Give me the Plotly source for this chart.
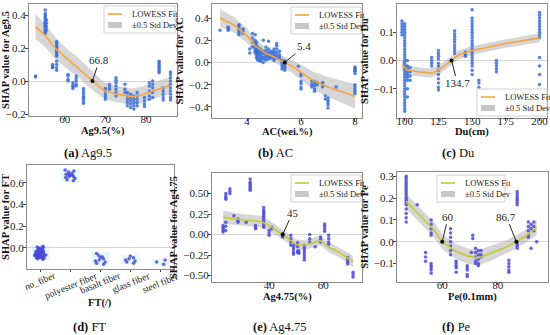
import plotly.graph_objects as go
import numpy as np

W, H = 550, 335
FONT = "Liberation Serif"

# ---------------- data ----------------
# (a) Ag9.5
ag95_gx = [52.8, 55.2, 55.5, 57.0, 58.0, 60.8, 62.0, 62.8, 64.6, 70.0, 71.0, 72.6, 74.8,
           75.4, 76.2, 77.0, 77.8, 79.6, 80.8, 81.6, 83.2, 84.2, 86.0]
ag95_gy = [
    [0.03, 0.025],
    [0.43, 0.41, 0.40, 0.39, 0.38, 0.37, 0.36, 0.355, 0.35, 0.345, 0.34, 0.335, 0.33, 0.32, 0.31, 0.30, 0.29],
    [0.37, 0.35, 0.33, 0.31],
    [0.10, 0.09, 0.085, 0.08],
    [0.24, 0.23, 0.22, 0.21, 0.20, 0.19, 0.18, 0.17, 0.16, 0.15, 0.12, 0.10, 0.08, 0.065],
    [0.04, 0.03, 0.01, 0.0],
    [-0.01, -0.025, -0.035, -0.045],
    [0.03, 0.015, 0.0, -0.02, -0.03],
    [-0.045, -0.06, -0.075, -0.09, -0.10, -0.11, -0.125, -0.135],
    [-0.045, -0.06, -0.08, -0.095, -0.11],
    [-0.02, -0.035, -0.05],
    [0.02, 0.005, -0.01, -0.03, -0.05, -0.07, -0.09],
    [-0.02, -0.05, -0.07],
    [-0.07, -0.09, -0.11, -0.13, -0.15],
    [-0.08, -0.10, -0.12, -0.14, -0.16],
    [-0.09, -0.11, -0.13, -0.15, -0.17],
    [-0.07, -0.09, -0.11, -0.13, -0.15],
    [-0.10, -0.12, -0.14, -0.155],
    [-0.01, -0.03, -0.06, -0.09, -0.11],
    [0.0, -0.02, -0.04, -0.07, -0.10],
    [0.12, 0.11, 0.10, 0.09, 0.08, 0.07, 0.06, 0.05],
    [-0.04, -0.06, -0.08, -0.10, -0.115],
    [0.055, 0.04, 0.02, 0.0, -0.02, -0.04, -0.06, -0.08, -0.10, -0.115],
]
ag95_fit_x = [52.8, 55, 58, 61, 63, 66.8, 69.5, 72, 74, 76.5, 79, 81, 83.5, 86]
ag95_fit_y = [0.33, 0.28, 0.19, 0.125, 0.087, 0.0, -0.055, -0.075, -0.085, -0.095, -0.085, -0.065, -0.045, -0.025]
ag95_half = [0.075, 0.07, 0.065, 0.06, 0.06, 0.055, 0.05, 0.05, 0.05, 0.05, 0.05, 0.05, 0.05, 0.05]
ag95_mark = [66.8]

# (b) AC
ac_gx = [3.0, 3.3, 3.7, 3.85, 4.1, 4.2, 4.3, 4.35, 4.4, 4.5, 4.6, 4.7, 4.8, 4.9, 5.0, 5.1, 5.2,
         5.3, 5.4, 5.9, 6.0, 6.4, 6.5, 6.6, 6.8, 6.9, 7.0, 7.3, 8.0]
ac_gy = [
    [0.29],
    [0.32, 0.31, 0.30, 0.29],
    [0.34, 0.33, 0.31, 0.29, 0.27, 0.25],
    [0.30, 0.28, 0.26],
    [0.085, 0.12],
    [0.26, 0.22, 0.18, 0.14],
    [0.25, 0.20, 0.17, 0.15, 0.12, 0.10, 0.085],
    [0.18, 0.15, 0.12, 0.10, 0.08, 0.06, 0.04],
    [0.14, 0.11, 0.09, 0.07, 0.05, 0.03, 0.02],
    [0.12, 0.10, 0.08, 0.06, 0.04, 0.02, 0.01],
    [0.20, 0.10, 0.08, 0.05, 0.03, 0.0],
    [0.14, 0.11, 0.08, 0.06, 0.04, 0.02],
    [0.19, 0.12, 0.09, 0.07, 0.05, 0.03],
    [0.10, 0.08, 0.06, 0.04],
    [0.12, 0.10, 0.08, 0.06, 0.04, 0.02],
    [0.17, 0.15, 0.12, 0.09, 0.06, 0.04],
    [0.10, 0.07, 0.05, 0.03],
    [0.02, 0.0, -0.02, -0.04, -0.06],
    [0.01, -0.01, -0.03, -0.05, -0.07],
    [-0.035],
    [-0.10, -0.12, -0.17, -0.19, -0.22, -0.24],
    [-0.17, -0.20, -0.22],
    [-0.17, -0.19, -0.21, -0.24, -0.26],
    [-0.18, -0.20],
    [-0.18, -0.20, -0.22],
    [-0.30, -0.33],
    [-0.32, -0.34, -0.36, -0.38, -0.41],
    [-0.22],
    [-0.04, -0.05, -0.06, -0.07, -0.08, -0.10, -0.20, -0.22, -0.24, -0.26, -0.28],
]
ac_fit_x = [3.0, 3.5, 4.0, 4.3, 4.7, 5.0, 5.4, 5.7, 6.0, 6.5, 7.0, 7.5, 8.0]
ac_fit_y = [0.40, 0.34, 0.24, 0.15, 0.08, 0.05, 0.0, -0.04, -0.09, -0.17, -0.22, -0.26, -0.305]
ac_half = [0.08, 0.07, 0.065, 0.06, 0.05, 0.05, 0.05, 0.06, 0.07, 0.08, 0.09, 0.10, 0.11]
ac_mark = [5.4]

# (c) Du
du_gx = [98, 100, 102, 104, 120, 125, 137, 145, 150, 155, 168, 200]
du_gy = [
    [0.14, 0.13, 0.12, 0.11, 0.10, 0.09],
    [0.13, 0.12, 0.11, 0.10, 0.09, 0.08, 0.07, 0.06, 0.05, 0.04, 0.03, 0.02, 0.01, 0.0, -0.01, -0.02,
     -0.03, -0.04, -0.05, -0.06, -0.07, -0.08, -0.09, -0.10, -0.11, -0.12, -0.13, -0.14, -0.15, -0.16,
     -0.17, -0.18],
    [0.0, -0.02, -0.03, -0.04, -0.05, -0.06, -0.07, -0.10, -0.13],
    [-0.025, -0.04, -0.055, -0.07],
    [0.01, 0.0, -0.01, -0.02],
    [0.035, 0.025, 0.015, 0.005, -0.01, -0.02, -0.035, -0.05, -0.065, -0.08, -0.095, -0.105],
    [0.105, 0.095, 0.085, 0.075, 0.065, 0.055, 0.045, 0.035, 0.025],
    [0.03, 0.02, 0.015],
    [0.18, 0.15, 0.14, 0.13, 0.12, 0.11, 0.10, 0.09, 0.08, 0.07, 0.06, 0.05, 0.04, 0.03, 0.02, 0.01,
     0.0, -0.01, -0.02, -0.035, -0.05],
    [-0.07, -0.08, -0.095],
    [0.0, -0.01, -0.02, -0.03, -0.04],
    [0.17, 0.16, 0.15, 0.14, 0.13, 0.12, 0.11, 0.10, 0.09, 0.08, 0.01, -0.02, -0.05, -0.085],
]
du_fit_x = [98, 102, 110, 120, 125, 130, 134.7, 140, 150, 175, 200]
du_fit_y = [-0.015, -0.035, -0.04, -0.045, -0.035, -0.018, 0.0, 0.02, 0.035, 0.06, 0.08]
du_half = [0.02, 0.018, 0.016, 0.016, 0.016, 0.016, 0.016, 0.016, 0.015, 0.015, 0.016]
du_mark = [134.7]

# (d) FT
ft_categories = ["no_fiber", "polyester fiber", "basalt fiber", "glass fiber", "steel fiber"]
ft_values = [
    [0.015, 0.01, 0.005, 0.0, -0.005, -0.01, -0.015, -0.02, -0.025, -0.03, -0.03, -0.035, -0.035, -0.04,
     -0.04, -0.045, -0.045, -0.05, -0.05, -0.05, -0.055, -0.055, -0.06, -0.06, -0.06, -0.065, -0.065,
     -0.07, -0.07, -0.07, -0.075, -0.075, -0.08, -0.08, -0.085, -0.085, -0.09, -0.09, -0.095, -0.1, -0.105],
    [0.72, 0.71, 0.70, 0.69, 0.68, 0.68, 0.67, 0.67, 0.66, 0.66, 0.65, 0.64, 0.63, 0.62],
    [-0.05, -0.07, -0.08, -0.09, -0.10, -0.11, -0.12, -0.13, -0.14, -0.15],
    [-0.075, -0.09, -0.10, -0.11, -0.12, -0.13, -0.14],
    [-0.11, -0.13, -0.15],
]

# (e) Ag4.75
ag475_gx = [23, 24, 25.5, 27, 28.5, 31.5, 33, 35, 38, 40, 41, 45, 48, 49, 50.5, 51, 53, 55, 57,
            59, 60.5, 62, 69, 71]
ag475_gy = [
    [0.11, 0.09, 0.07, 0.05, 0.03],
    [0.50, 0.47, 0.45, 0.43, 0.15, 0.10, 0.05],
    [0.56, 0.53, 0.50],
    [0.23],
    [0.19, 0.17, 0.15],
    [0.15],
    [0.68, 0.64, 0.62, 0.60, 0.58, 0.56, 0.54],
    [0.11, 0.09, 0.07],
    [0.33, 0.30, 0.28, 0.26, 0.24, 0.22, 0.20, 0.17, 0.14, 0.11, 0.09],
    [0.05, 0.02, -0.01],
    [0.09, 0.07],
    [0.01, 0.0, -0.02, -0.03],
    [-0.01, -0.05, -0.09, -0.13],
    [-0.13, -0.16, -0.19, -0.22, -0.24],
    [-0.10, -0.15, -0.20, -0.22],
    [-0.20, -0.23],
    [-0.13, -0.16, -0.19, -0.22, -0.25, -0.28, -0.31],
    [0.0, -0.05, -0.09],
    [-0.15],
    [-0.03, -0.06, -0.09],
    [0.13, 0.10, 0.07, 0.04],
    [-0.01, -0.05, -0.09, -0.12],
    [-0.28, -0.31, -0.34, -0.36],
    [-0.46, -0.49, -0.52],
]
ag475_fit_x = [23, 30, 37, 40, 45, 50, 53, 56, 59, 62, 66, 71]
ag475_fit_y = [0.21, 0.18, 0.16, 0.11, 0.0, -0.12, -0.13, -0.10, -0.075, -0.155, -0.22, -0.33]
ag475_half = [0.08, 0.07, 0.07, 0.065, 0.06, 0.06, 0.06, 0.06, 0.06, 0.06, 0.06, 0.07]
ag475_mark = [45]

# (f) Pe
pe_gx = [47, 51, 54, 56, 63, 65, 69, 70.5, 71, 72, 73, 74, 84, 87, 91, 92, 93, 94]
pe_gy = [
    [0.30, 0.29, 0.28, 0.27, 0.26, 0.25, 0.24, 0.23, 0.22, 0.21, 0.20, 0.19, 0.18, 0.17, 0.15, 0.13, 0.11, 0.09],
    [0.17],
    [-0.05, -0.07, -0.09],
    [0.10, 0.08, 0.06, 0.04, 0.03, -0.10, -0.11, -0.12, -0.13, -0.145],
    [0.06, 0.04, 0.02, 0.0, -0.02, -0.04, -0.06],
    [-0.09, -0.10, -0.11, -0.12, -0.14],
    [-0.11, -0.12, -0.13, -0.15, -0.16],
    [-0.05],
    [0.03, 0.015],
    [-0.03, -0.05, -0.07, -0.09, -0.10],
    [-0.04, -0.06, -0.08, -0.10, -0.11],
    [-0.04, -0.06, -0.07],
    [-0.085, -0.10, -0.115, -0.13, -0.14],
    [0.23, 0.22, 0.21, 0.20, 0.19, 0.18, 0.17, 0.0, -0.01, -0.02, -0.03],
    [0.09, 0.07, 0.05, 0.03, 0.02],
    [0.08, 0.06, -0.03],
    [0.09, 0.07, 0.05],
    [0.0],
]
pe_fit_x = [47, 52, 57, 60, 65, 69, 73, 78, 83, 86.7, 90, 94]
pe_fit_y = [0.185, 0.12, 0.055, 0.0, -0.045, -0.065, -0.075, -0.05, -0.025, 0.0, 0.025, 0.065]
pe_half = [0.035, 0.035, 0.035, 0.035, 0.035, 0.035, 0.035, 0.035, 0.03, 0.03, 0.03, 0.035]
pe_mark = [60, 86.7]

legend_labels = ["LOWESS Fit", "±0.5 Std Dev"]

# ---------------- figure ----------------
fig = go.Figure()

def flat(gx, gy):
    xs = [x for x, ys in zip(gx, gy) for _ in ys]
    ys = [y for g in gy for y in g]
    return xs, ys

def dx(l, r):
    return [l / W, r / W]

def dy(t, b):
    return [1 - b / H, 1 - t / H]

def px(v):
    return v / W

def py(v):
    return 1 - v / H

BLUE = "#3a6fd6"
PURPLE = "#4a4ad8"
ORANGE = "#f5a540"
OLIVE = "#c8c637"
BAND = "rgba(165,165,165,0.45)"

def add_panel(i, gx, gy, fx, fy, half, marks, pcolor, lcolor):
    xa = "x" if i == 1 else f"x{i}"
    ya = "y" if i == 1 else f"y{i}"
    fx = np.array(fx); fy = np.array(fy); h = np.array(half)
    fig.add_trace(go.Scatter(x=fx, y=fy - h, mode="lines", line=dict(width=0), xaxis=xa, yaxis=ya,
                             showlegend=False, hoverinfo="skip"))
    fig.add_trace(go.Scatter(x=fx, y=fy + h, mode="lines", line=dict(width=0), fill="tonexty",
                             fillcolor=BAND, xaxis=xa, yaxis=ya, showlegend=False))
    xs, ys = flat(gx, gy)
    fig.add_trace(go.Scatter(x=xs, y=ys, mode="markers", xaxis=xa, yaxis=ya, showlegend=False,
                             marker=dict(size=3.5, color=pcolor, opacity=0.85)))
    fig.add_trace(go.Scatter(x=fx, y=fy, mode="lines", line=dict(color=lcolor, width=1.6),
                             xaxis=xa, yaxis=ya, showlegend=False))
    fig.add_trace(go.Scatter(x=marks, y=[0] * len(marks), mode="markers", xaxis=xa, yaxis=ya,
                             showlegend=False, marker=dict(size=4, color="black")))

add_panel(1, ag95_gx, ag95_gy, ag95_fit_x, ag95_fit_y, ag95_half, ag95_mark, BLUE, ORANGE)
add_panel(2, ac_gx, ac_gy, ac_fit_x, ac_fit_y, ac_half, ac_mark, BLUE, ORANGE)
add_panel(3, du_gx, du_gy, du_fit_x, du_fit_y, du_half, du_mark, BLUE, ORANGE)
add_panel(5, ag475_gx, ag475_gy, ag475_fit_x, ag475_fit_y, ag475_half, ag475_mark, PURPLE, OLIVE)
add_panel(6, pe_gx, pe_gy, pe_fit_x, pe_fit_y, pe_half, pe_mark, PURPLE, OLIVE)

# (d) categorical strip
shapes = []
annots = []
for k, (cat, vals) in enumerate(zip(ft_categories, ft_values)):
    fig.add_trace(go.Box(x=[k] * len(vals), y=vals, xaxis="x4", yaxis="y4", boxpoints="all",
                         jitter=0.8, pointpos=0, width=0.5, fillcolor="rgba(0,0,0,0)",
                         line=dict(width=0), showlegend=False,
                         marker=dict(size=3.5, color=PURPLE, opacity=0.85)))
    shapes.append(dict(type="rect", xref="x4", yref="y4", x0=k - 0.3, x1=k + 0.3,
                       y0=min(vals) - 0.01, y1=max(vals) + 0.01, fillcolor="#e3f8fc",
                       line=dict(width=0), layer="below"))
    # rotated category label centred under its tick
    annots.append(dict(x=k, xref="x4", y=py(268), yref="paper", text=cat, showarrow=False,
                       textangle=-22, xanchor="center", yanchor="top",
                       font=dict(family=FONT, size=9.5, color="#222")))

tickf = dict(family=FONT, size=11, color="#222")
titlef = dict(family=FONT, size=10.5, color="#111", weight="bold")

def axis_common(**kw):
    d = dict(showline=True, linecolor="#8a8a8a", linewidth=1, mirror=True, ticks="outside",
             ticklen=3, tickcolor="#444", showgrid=False, tickfont=tickf, automargin=False)
    d.update(kw)
    return d

panels = {
    1: dict(xd=dx(29, 177), yd=dy(4, 116), xr=[51.2, 87.6], yr=[-0.212, 0.467],
            xt=[60, 70, 80], yt=[-0.2, 0, 0.2, 0.4], yf=".1f",
            xtitle="Ag9.5(%)", xty=131, ytitle="SHAP value for Ag9.5"),
    2: dict(xd=dx(212, 362), yd=dy(4, 118), xr=[2.7, 8.26], yr=[-0.5, 0.526],
            xt=[4, 6, 8], yt=[-0.4, -0.2, 0, 0.2, 0.4], yf=".1f",
            xtitle="AC(wei.%)", xty=132, ytitle="SHAP value for AC"),
    3: dict(xd=dx(397, 547), yd=dy(4, 118), xr=[94.3, 205.5], yr=[-0.204, 0.2],
            xt=[100, 125, 150, 175, 200], yt=[-0.1, 0, 0.1], yf=".1f",
            xtitle="Du(cm)", xty=132, ytitle="SHAP value for Du"),
    4: dict(xd=dx(27, 174), yd=dy(165, 269), xr=[-0.45, 4.45], yr=[-0.194, 0.765],
            xt=None, yt=[0, 0.2, 0.4, 0.6], yf=".1f",
            xtitle="FT(/)", xty=303, ytitle="SHAP value for FT"),
    5: dict(xd=dx(212, 362), yd=dy(173, 282), xr=[18.9, 74.3], yr=[-0.58, 0.752],
            xt=[40, 60], yt=[-0.5, -0.25, 0, 0.25, 0.5], yf=".2f",
            xtitle="Ag4.75(%)", xty=297, ytitle="SHAP value for Ag4.75"),
    6: dict(xd=dx(397, 548), yd=dy(172, 282), xr=[43.7, 98.1], yr=[-0.185, 0.32],
            xt=[60, 80], yt=[-0.1, 0, 0.1, 0.2, 0.3], yf=".1f",
            xtitle="Pe(0.1mm)", xty=297, ytitle="SHAP value for Pe"),
}

layout = {}
for i, p in panels.items():
    xk = "xaxis" if i == 1 else f"xaxis{i}"
    yk = "yaxis" if i == 1 else f"yaxis{i}"
    xa = "x" if i == 1 else f"x{i}"
    ya = "y" if i == 1 else f"y{i}"
    xax = axis_common(domain=p["xd"], range=p["xr"], anchor=ya, zeroline=False, ticklen=2,
                      ticklabelstandoff=-9)
    if p["xt"] is not None:
        xax["tickvals"] = p["xt"]
    else:
        xax["tickvals"] = list(range(len(ft_categories)))
        xax["showticklabels"] = False
    yax = axis_common(domain=p["yd"], range=p["yr"], anchor=xa, tickvals=p["yt"],
                      tickformat=p["yf"], zeroline=True, zerolinecolor="#d6d6d6", zerolinewidth=1,
                      ticklabelstandoff=-3,
                      title=dict(text=p["ytitle"], font=titlef, standoff=3))
    layout[xk] = xax
    layout[yk] = yax
    annots.append(dict(x=(p["xd"][0] + p["xd"][1]) / 2, y=py(p["xty"]), xref="paper",
                       yref="paper", text=p["xtitle"], showarrow=False, xanchor="center",
                       yanchor="middle", font=titlef))

def arrow(xa, ya, xv, text, ax, ay):
    annots.append(dict(x=xv, y=0, xref=xa, yref=ya, text=text, showarrow=True, arrowhead=0,
                       arrowwidth=1, arrowcolor="#222", ax=ax, ay=ay,
                       font=dict(family=FONT, size=11, color="#222")))

arrow("x", "y", ag95_mark[0], "66.8", 7, -21)
arrow("x2", "y2", ac_mark[0], "5.4", 19, -16)
arrow("x3", "y3", du_mark[0], "134.7", 6, 23)
arrow("x5", "y5", ag475_mark[0], "45", 10, -22)
arrow("x6", "y6", pe_mark[0], "60", 6, -25)
arrow("x6", "y6", pe_mark[1], "86.7", -10, -25)

captions = [("(a)", " Ag9.5", 88, 153), ("(b)", " AC", 275, 153), ("(c)", " Du", 458, 153),
            ("(d)", " FT", 89, 327), ("(e)", " Ag4.75", 280, 327), ("(f)", " Pe", 456, 327)]
for lab, txt, cx, cy in captions:
    annots.append(dict(x=px(cx), y=py(cy), xref="paper", yref="paper", showarrow=False,
                       text=f"<b>{lab}</b>{txt}", xanchor="center", yanchor="middle",
                       font=dict(family=FONT, size=12.5, color="#111")))

# manual legends (box left, top, width, line colour)
legend_boxes = [(104, 6, 71, ORANGE), (291, 7, 70, ORANGE), (477, 89, 70, ORANGE),
                (291, 175, 70, OLIVE), (437, 175, 68, OLIVE)]
for (l, t, w, col) in legend_boxes:
    hgt = 27
    shapes.append(dict(type="rect", xref="paper", yref="paper", x0=px(l), x1=px(l + w),
                       y0=py(t + hgt), y1=py(t), fillcolor="rgba(255,255,255,0.9)",
                       line=dict(color="#d0d0d0", width=1), layer="above"))
    shapes.append(dict(type="line", xref="paper", yref="paper", x0=px(l + 4), x1=px(l + 18),
                       y0=py(t + 8), y1=py(t + 8), line=dict(color=col, width=1.6), layer="above"))
    shapes.append(dict(type="rect", xref="paper", yref="paper", x0=px(l + 4), x1=px(l + 18),
                       y0=py(t + 22), y1=py(t + 16), fillcolor="rgba(185,185,185,0.8)",
                       line=dict(width=0), layer="above"))
    for j, lab in enumerate(legend_labels):
        annots.append(dict(x=px(l + 26), y=py(t + 8 + 11 * j), xref="paper", yref="paper",
                           showarrow=False, text=lab, xanchor="left", yanchor="middle",
                           font=dict(family=FONT, size=8.5, color="#222")))

fig.update_layout(width=W, height=H, margin=dict(l=0, r=0, t=0, b=0),
                  paper_bgcolor="white", plot_bgcolor="white", showlegend=False,
                  font=dict(family=FONT, size=11, color="#222"),
                  annotations=annots, shapes=shapes, **layout)

fig.write_html("out.html", config={"displayModeBar": False},
               post_script="document.body.style.margin='0px';document.body.style.padding='0px';")
